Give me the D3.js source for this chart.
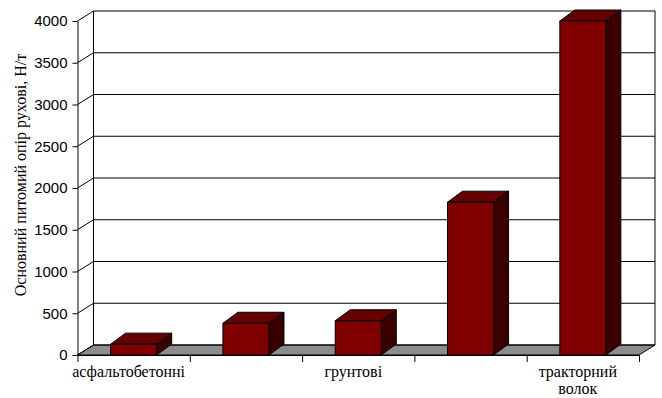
<!DOCTYPE html>
<html>
<head>
<meta charset="utf-8">
<script src="https://cdnjs.cloudflare.com/ajax/libs/d3/7.8.5/d3.min.js"></script>
<style>
  body { margin: 0; background: #fff; }
  svg { display: block; }
</style>
</head>
<body>
<div id="chart"></div>
<script>
// data
var categories = ["асфальтобетонні", "", "грунтові", "", "тракторний волок"];
var values = [130, 380, 410, 1830, 4000];
var yTicks = [0, 500, 1000, 1500, 2000, 2500, 3000, 3500, 4000];
var yTitle = "Основний питомий опір рухові, Н/т";

var W = 662, H = 398;
var plotLeft = 77.5, plotRight = 639, plotBottom = 355, plotTop = 21;
var depth = {x: 16, y: -10};     // walls / floor
var barDepth = {x: 15, y: -11};  // column depth

var svg = d3.select("#chart").append("svg")
    .attr("width", W)
    .attr("height", H);

var y = d3.scaleLinear().domain([0, 4000]).range([plotBottom, plotTop]);
var x = d3.scaleBand()
    .domain(d3.range(categories.length))
    .range([plotLeft, plotRight])
    .paddingInner(0.59)
    .paddingOuter(0.295);
var xEdge = d3.scaleLinear().domain([0, categories.length]).range([plotLeft, plotRight]);

// floor
var floor = [[plotLeft, plotBottom], [plotRight, plotBottom],
             [plotRight + depth.x, plotBottom + depth.y], [plotLeft + depth.x, plotBottom + depth.y]];
svg.append("path")
    .attr("d", d3.line()(floor) + "Z")
    .attr("fill", "#8c8c8c")
    .attr("stroke", "#000")
    .attr("stroke-width", 1);

// back wall gridlines + left wall diagonals
var grid = svg.append("g").attr("stroke", "#000").attr("stroke-width", 1).attr("fill", "none");
yTicks.forEach(function(t) {
    var yy = y(t);
    grid.append("path")
        .attr("d", "M" + plotLeft + "," + yy + "L" + (plotLeft + depth.x) + "," + (yy + depth.y) +
                   "L" + (plotRight + depth.x) + "," + (yy + depth.y));
});
// wall verticals
grid.append("line")
    .attr("x1", plotLeft + depth.x).attr("y1", y(4000) + depth.y)
    .attr("x2", plotLeft + depth.x).attr("y2", y(0) + depth.y);
grid.append("line")
    .attr("x1", plotRight + depth.x).attr("y1", y(4000) + depth.y)
    .attr("x2", plotRight + depth.x).attr("y2", y(0) + depth.y);

// columns
var bars = svg.selectAll("g.bar")
    .data(values)
  .enter().append("g")
    .attr("class", "bar")
    .attr("stroke", "#000")
    .attr("stroke-width", 1)
    .attr("stroke-linejoin", "round");

bars.each(function(d, i) {
    var g = d3.select(this);
    var x0 = x(i), x1 = x(i) + x.bandwidth();
    var yt = y(d), yb = y(0);
    var dx = barDepth.x, dy = barDepth.y;
    // side face
    g.append("path")
        .attr("d", d3.line()([[x1, yt], [x1 + dx, yt + dy], [x1 + dx, yb + dy], [x1, yb]]) + "Z")
        .attr("fill", "#3a0000");
    // top face
    g.append("path")
        .attr("d", d3.line()([[x0, yt], [x1, yt], [x1 + dx, yt + dy], [x0 + dx, yt + dy]]) + "Z")
        .attr("fill", "#640000");
    // front face
    g.append("rect")
        .attr("x", x0).attr("y", yt)
        .attr("width", x1 - x0).attr("height", yb - yt)
        .attr("fill", "#800000");
});

// y axis
var yAxis = d3.axisLeft(y).tickValues(yTicks).tickFormat(d3.format("d"))
    .tickSize(5).tickPadding(5).tickSizeOuter(0);
var gy = svg.append("g")
    .attr("transform", "translate(" + plotLeft + ",0)")
    .call(yAxis);
gy.select(".domain").attr("stroke", "#000");
gy.selectAll(".tick line").attr("stroke", "#000");
gy.selectAll("text")
    .attr("fill", "#000")
    .style("font-family", "'Liberation Sans', Arial, sans-serif")
    .style("font-size", "15px");

// x axis (ticks at category boundaries)
var xAxis = d3.axisBottom(xEdge).ticks(categories.length).tickSize(7).tickSizeOuter(0).tickFormat("");
var gx = svg.append("g")
    .attr("transform", "translate(0," + plotBottom + ")")
    .call(xAxis);
gx.select(".domain").attr("stroke", "#000");
gx.selectAll(".tick line").attr("stroke", "#000");

// category labels
categories.forEach(function(c, i) {
    if (!c) return;
    var cx = x(i) + x.bandwidth() / 2 - 5;
    var words = i === categories.length - 1 ? c.split(" ") : [c];
    var t = svg.append("text")
        .attr("x", cx)
        .attr("y", 377)
        .attr("text-anchor", "middle")
        .style("font-family", "'Liberation Serif', 'Times New Roman', serif")
        .style("font-size", "16px")
        .attr("fill", "#000");
    words.forEach(function(w, k) {
        t.append("tspan").attr("x", cx).attr("dy", k === 0 ? 0 : 17).text(w);
    });
});

// y title
svg.append("text")
    .attr("transform", "translate(26," + 175 + ") rotate(-90)")
    .attr("text-anchor", "middle")
    .style("font-family", "'Liberation Serif', 'Times New Roman', serif")
    .style("font-size", "16px")
    .attr("fill", "#000")
    .text(yTitle);
</script>
</body>
</html>
